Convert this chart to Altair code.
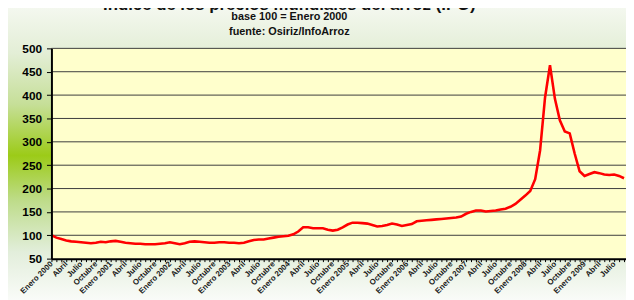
import json
import altair as alt
import pandas as pd

# ---- data (monthly index, base 100 = Enero 2000) ----
ipo_2000 = [100, 95, 92, 89, 87, 86, 85, 84, 83, 84, 86, 85]
ipo_2001 = [87, 88, 86, 84, 83, 82, 82, 81, 81, 81, 82, 83]
ipo_2002 = [85, 83, 81, 83, 86, 87, 86, 85, 84, 84, 85, 85]
ipo_2003 = [84, 84, 83, 84, 87, 90, 91, 91, 93, 95, 97, 98]
ipo_2004 = [99, 102, 108, 117, 117, 115, 115, 115, 112, 110, 112, 117]
ipo_2005 = [123, 127, 127, 126, 125, 122, 119, 120, 122, 125, 123, 120]
ipo_2006 = [122, 124, 130, 131, 132, 133, 134, 135, 136, 137, 138, 140]
ipo_2007 = [146, 150, 153, 153, 151, 152, 153, 155, 157, 161, 167, 176]
ipo_2008 = [185, 195, 220, 282, 395, 464, 392, 346, 322, 318, 275, 237]
ipo_2009 = [227, 231, 235, 233, 230, 229, 230, 227, 222]

years = [2000, 2001, 2002, 2003, 2004, 2005, 2006, 2007, 2008, 2009]
quarter_names = ["Enero", "Abril", "Julio", "Octubre"]
y_ticks = [50, 100, 150, 200, 250, 300, 350, 400, 450, 500]

title_text = "Indice de los precios mundiales del arroz (IPO)"
subtitle_1 = "base 100 = Enero 2000"
subtitle_2 = "fuente: Osiriz/InfoArroz"

series = (ipo_2000 + ipo_2001 + ipo_2002 + ipo_2003 + ipo_2004 +
          ipo_2005 + ipo_2006 + ipo_2007 + ipo_2008 + ipo_2009)
df = pd.DataFrame({"mes": list(range(len(series))), "ipo": series})

# quarter labels: "Enero 2000", "Abril", "Julio", "Octubre", "Enero 2001", ...
quarter_labels = []
for yv in years:
    for q in quarter_names:
        quarter_labels.append(f"{q} {yv}" if q == "Enero" else q)

tick_months = list(range(0, 118))
label_expr = ("datum.value % 3 == 0 ? " + json.dumps(quarter_labels) +
              "[datum.value / 3] : ''")

W, H = 582, 213
x_dom = [0, 116.4]
FONT = "Liberation Sans"

x_axis = alt.Axis(values=tick_months, labelExpr=label_expr, labelAngle=-45,
                  labelAlign="right", labelBaseline="middle",
                  labelFontSize=8, labelFontWeight="bold", labelFont=FONT,
                  labelColor="#1a1a1a", labelPadding=1, labelOverlap=False,
                  labelFlush=False, labelBound=False,
                  tickSize=3, tickColor="#000", tickWidth=1,
                  domainColor="#000", domainWidth=2, grid=False,
                  title=None, zindex=1)
y_axis = alt.Axis(values=y_ticks, labelFontSize=12, labelFontWeight="bold",
                  labelFont=FONT, labelColor="#000", labelPadding=5,
                  tickSize=5, tickColor="#000", tickWidth=1,
                  domainColor="#000", domainWidth=2, grid=False,
                  title=None, zindex=1)
x_scale = alt.Scale(domain=x_dom, nice=False, zero=False)
y_scale = alt.Scale(domain=[50, 500], nice=False, zero=False)

one = pd.DataFrame({"k": [0]})

bg_gradient = alt.LinearGradient(
    gradient="linear", x1=0, x2=0, y1=0, y2=1,
    stops=[alt.GradientStop(offset=0, color="#f6f9f2"),
           alt.GradientStop(offset=0.17, color="#e3eed6"),
           alt.GradientStop(offset=0.34, color="#c6df98"),
           alt.GradientStop(offset=0.51, color="#9ccb18"),
           alt.GradientStop(offset=0.66, color="#bedc8a"),
           alt.GradientStop(offset=0.83, color="#e2eedb"),
           alt.GradientStop(offset=1, color="#fbfcfa")])

bg = alt.Chart(one).mark_rect(color=bg_gradient).encode(
    x=alt.value(-44), x2=alt.value(W + 10), y=alt.value(-47), y2=alt.value(H + 45))
plot_bg = alt.Chart(one).mark_rect(color="#ffffcc").encode(
    x=alt.value(0), x2=alt.value(W), y=alt.value(0), y2=alt.value(H))

grid = alt.Chart(pd.DataFrame({"v": y_ticks[1:]})).mark_rule(
    color="#3c3c3c", strokeWidth=1).encode(
    y=alt.Y("v:Q", scale=y_scale, axis=y_axis))

line = alt.Chart(df).mark_line(color="#ff0000", strokeWidth=2.6, clip=True).encode(
    x=alt.X("mes:Q", scale=x_scale, axis=x_axis),
    y=alt.Y("ipo:Q", scale=y_scale, axis=y_axis))

def txt(text, size, yv):
    return alt.Chart(pd.DataFrame({"t": [text]})).mark_text(
        font=FONT, fontSize=size, fontWeight="bold", color="#111",
        align="center", baseline="alphabetic").encode(
        text="t:N", x=alt.value(241), y=alt.value(yv))

t0 = txt(title_text, 17, -38.5)
t1 = txt(subtitle_1, 11, -29)
t2 = txt(subtitle_2, 11, -14)

chart = alt.layer(bg, plot_bg, grid, line, t0, t1, t2).properties(
    width=W, height=H,
    autosize=alt.AutoSizeParams(type="none"),
    padding={"left": 44, "top": 39, "right": 0, "bottom": 40},
    background="#ffffff",
).configure_view(strokeWidth=0)

chart.save("out.html", embed_options={"renderer": "svg", "actions": False})
